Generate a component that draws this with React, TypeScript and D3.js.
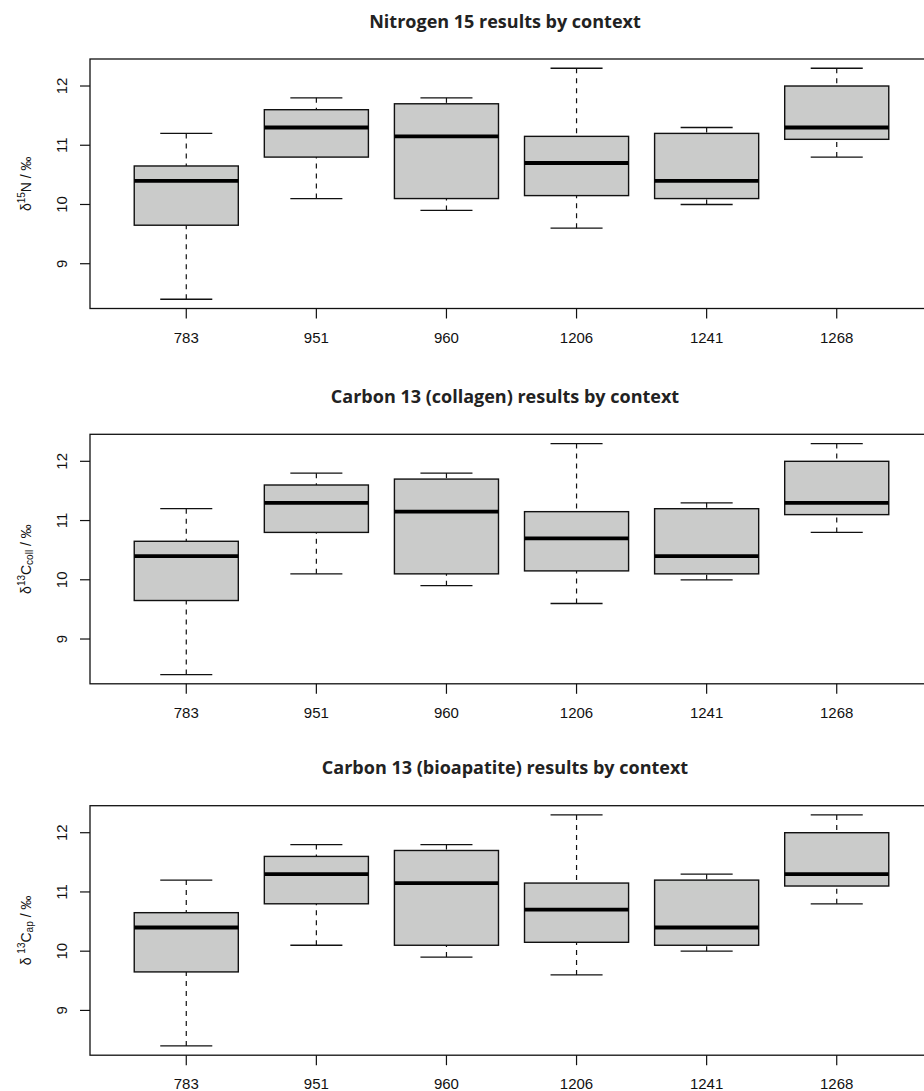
import React from "react";
import * as d3 from "d3";

const contexts = ["783", "951", "960", "1206", "1241", "1268"];
const lowerWhisker = [8.4, 10.1, 9.9, 9.6, 10.0, 10.8];
const q1 = [9.65, 10.8, 10.1, 10.15, 10.1, 11.1];
const median = [10.4, 11.3, 11.15, 10.7, 10.4, 11.3];
const q3 = [10.65, 11.6, 11.7, 11.15, 11.2, 12.0];
const upperWhisker = [11.2, 11.8, 11.8, 12.3, 11.3, 12.3];
const yTicks = [9, 10, 11, 12];
const panelTitles = [
  "Nitrogen 15 results by context",
  "Carbon 13 (collagen) results by context",
  "Carbon 13 (bioapatite) results by context",
];
const panelTops = [59, 434.3, 805.7];

const W = 924;
const H = 1091;
const plotLeft = 90;
const plotRight = 933;
const plotH = 249.5;
const sansFont = "'Liberation Sans', Arial, sans-serif";

function YLabel({ i, x, y }: { i: number; x: number; y: number }) {
  const common = {
    transform: `rotate(-90 ${x} ${y})`,
    x,
    y,
    textAnchor: "middle" as const,
    dominantBaseline: "central" as const,
    fontFamily: sansFont,
    fontSize: 14,
    fill: "#111",
  };
  const sup = 10;
  if (i === 0) {
    return (
      <text {...common}>
        δ<tspan fontSize={sup} dy={-5}>15</tspan>
        <tspan dy={5}>N / ‰</tspan>
      </text>
    );
  }
  if (i === 1) {
    return (
      <text {...common}>
        δ<tspan fontSize={sup} dy={-5}>13</tspan>
        <tspan dy={5}>C</tspan>
        <tspan fontSize={sup} dy={3}>coll</tspan>
        <tspan dy={-3}> / ‰</tspan>
      </text>
    );
  }
  return (
    <text {...common}>
      δ <tspan fontSize={sup} dy={-5}>13</tspan>
      <tspan dy={5}>C</tspan>
      <tspan fontSize={sup} dy={3}>ap</tspan>
      <tspan dy={-3}> / ‰</tspan>
    </text>
  );
}

function Panel({ i, top }: { i: number; top: number }) {
  const bottom = top + plotH;
  const x = d3.scaleLinear().domain([0.26, 6.74]).range([plotLeft, plotRight]);
  const y = d3.scaleLinear().domain([8.244, 12.456]).range([bottom, top]);
  const boxHalf = x(1.4) - x(1);
  const stapleHalf = x(1.2) - x(1);
  return (
    <g>
      <text
        x={505}
        y={top - 31.5}
        textAnchor="middle"
        fontFamily="'Open Sans', Lato, sans-serif"
        fontWeight={700}
        fontSize={18}
        fill="#222"
      >
        {panelTitles[i]}
      </text>
      {contexts.map((c, k) => {
        const cx = x(k + 1);
        return (
          <g key={c}>
            <line x1={cx} x2={cx} y1={y(upperWhisker[k])} y2={y(q3[k])} stroke="#111" strokeWidth={1.2} strokeDasharray="5,5" />
            <line x1={cx} x2={cx} y1={y(lowerWhisker[k])} y2={y(q1[k])} stroke="#111" strokeWidth={1.2} strokeDasharray="5,5" />
            <line x1={cx - stapleHalf} x2={cx + stapleHalf} y1={y(upperWhisker[k])} y2={y(upperWhisker[k])} stroke="#111" strokeWidth={1.3} />
            <line x1={cx - stapleHalf} x2={cx + stapleHalf} y1={y(lowerWhisker[k])} y2={y(lowerWhisker[k])} stroke="#111" strokeWidth={1.3} />
            <rect x={cx - boxHalf} width={2 * boxHalf} y={y(q3[k])} height={y(q1[k]) - y(q3[k])} fill="#cacbca" stroke="#111" strokeWidth={1.4} />
            <line x1={cx - boxHalf} x2={cx + boxHalf} y1={y(median[k])} y2={y(median[k])} stroke="#000" strokeWidth={3.8} />
            <line x1={cx} x2={cx} y1={bottom} y2={bottom + 10} stroke="#111" strokeWidth={1.2} />
            <text x={cx} y={bottom + 34} textAnchor="middle" fontFamily={sansFont} fontSize={15} fill="#111">
              {c}
            </text>
          </g>
        );
      })}
      {yTicks.map((t) => (
        <g key={t}>
          <line x1={plotLeft - 10} x2={plotLeft} y1={y(t)} y2={y(t)} stroke="#111" strokeWidth={1.2} />
          <text
            x={62}
            y={y(t)}
            transform={`rotate(-90 62 ${y(t)})`}
            textAnchor="middle"
            dominantBaseline="central"
            fontFamily={sansFont}
            fontSize={15}
            fill="#111"
          >
            {t}
          </text>
        </g>
      ))}
      <rect x={plotLeft} y={top} width={plotRight - plotLeft} height={plotH} fill="none" stroke="#111" strokeWidth={1.3} />
      <YLabel i={i} x={26} y={(top + bottom) / 2} />
    </g>
  );
}

export default function App() {
  return (
    <div style={{ position: "absolute", left: 0, top: 0 }}>
      <svg width={W} height={H} style={{ display: "block", background: "#fff" }}>
        {panelTops.map((t, i) => (
          <Panel key={i} i={i} top={t} />
        ))}
      </svg>
    </div>
  );
}
